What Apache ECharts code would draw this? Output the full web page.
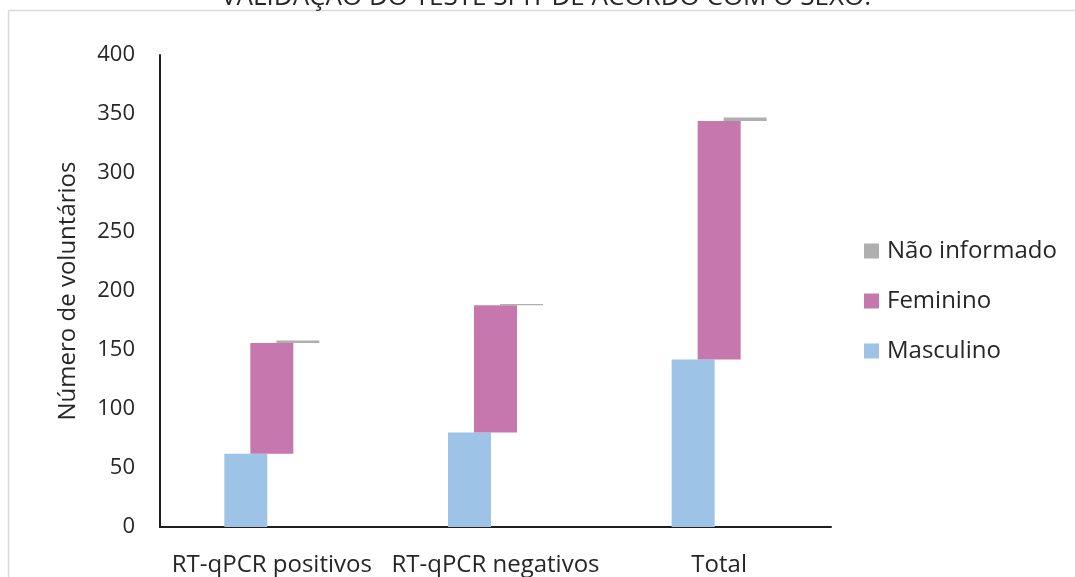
<!DOCTYPE html>
<html>
<head>
<meta charset="utf-8">
<script src="https://cdn.jsdelivr.net/npm/echarts@6/dist/echarts.min.js"></script>
<style>html,body{margin:0;padding:0;background:#fff}#c{width:1075px;height:577px}</style>
</head>
<body>
<div id="c"></div>
<script>
const categories = ['RT-qPCR positivos', 'RT-qPCR negativos', 'Total'];
const masculino = [62, 80, 142];
const feminino = [94, 108, 202];
const naoInformado = [2, 1, 3];
const yTicks = [0, 50, 100, 150, 200, 250, 300, 350, 400];

const baseF = masculino.slice();
const baseN = masculino.map((v, i) => v + feminino[i]);

const FONT = 'Open Sans';
const TXT = '#262626';
const BW = 43;
const GAP = '-39.5%';

const chart = echarts.init(document.getElementById('c'), null, {renderer: 'canvas'});
chart.setOption({
  animation: false,
  textStyle: {fontFamily: FONT},
  graphic: [
    {type: 'rect', shape: {x: 8.5, y: 10.5, width: 1200, height: 700},
     style: {fill: 'none', stroke: '#d9d9d9', lineWidth: 1.5}, silent: true, z: -10},
    {type: 'text', x: 546, y: 11,
     style: {text: 'VALIDAÇÃO DO TESTE SPIT DE ACORDO COM O SEXO.', font: '26px "Open Sans"',
             fill: TXT, align: 'center', verticalAlign: 'bottom'}, silent: true}
  ],
  grid: {left: 160, right: 244, top: 55, bottom: 50, containLabel: false},
  legend: {
    data: ['Não informado', 'Feminino', 'Masculino'],
    orient: 'vertical', left: 859, top: 234,
    icon: 'rect', itemWidth: 15, itemHeight: 15, itemGap: 26,
    textStyle: {fontFamily: FONT, fontSize: 24, color: TXT, padding: [0, 0, 0, 3]}
  },
  xAxis: {
    type: 'category', data: categories,
    axisLine: {lineStyle: {color: '#1f1f1f', width: 2}},
    axisTick: {show: false},
    axisLabel: {fontFamily: FONT, fontSize: 24, color: TXT, margin: 26, interval: 0}
  },
  yAxis: {
    type: 'value', min: yTicks[0], max: yTicks[yTicks.length - 1], interval: 50,
    name: 'Número de voluntários', nameLocation: 'middle', nameGap: 80,
    nameTextStyle: {fontFamily: FONT, fontSize: 24, color: TXT},
    axisLine: {show: true, lineStyle: {color: '#1f1f1f', width: 2}},
    axisTick: {show: false},
    splitLine: {show: false},
    axisLabel: {fontFamily: FONT, fontSize: 22, color: TXT, margin: 25}
  },
  series: [
    {name: 'Masculino', type: 'bar', stack: 'm', data: masculino, barWidth: BW, barGap: GAP,
     itemStyle: {color: '#9dc3e6'}},
    {name: 'baseF', type: 'bar', stack: 'f', data: baseF, barWidth: BW, barGap: GAP,
     itemStyle: {color: 'rgba(0,0,0,0)'}, silent: true, tooltip: {show: false}},
    {name: 'Feminino', type: 'bar', stack: 'f', data: feminino, barWidth: BW, barGap: GAP,
     itemStyle: {color: '#c678ae'}},
    {name: 'baseN', type: 'bar', stack: 'n', data: baseN, barWidth: BW, barGap: GAP,
     itemStyle: {color: 'rgba(0,0,0,0)'}, silent: true, tooltip: {show: false}},
    {name: 'Não informado', type: 'bar', stack: 'n', data: naoInformado, barWidth: BW, barGap: GAP,
     itemStyle: {color: '#afafaf'}}
  ]
});
</script>
</body>
</html>
